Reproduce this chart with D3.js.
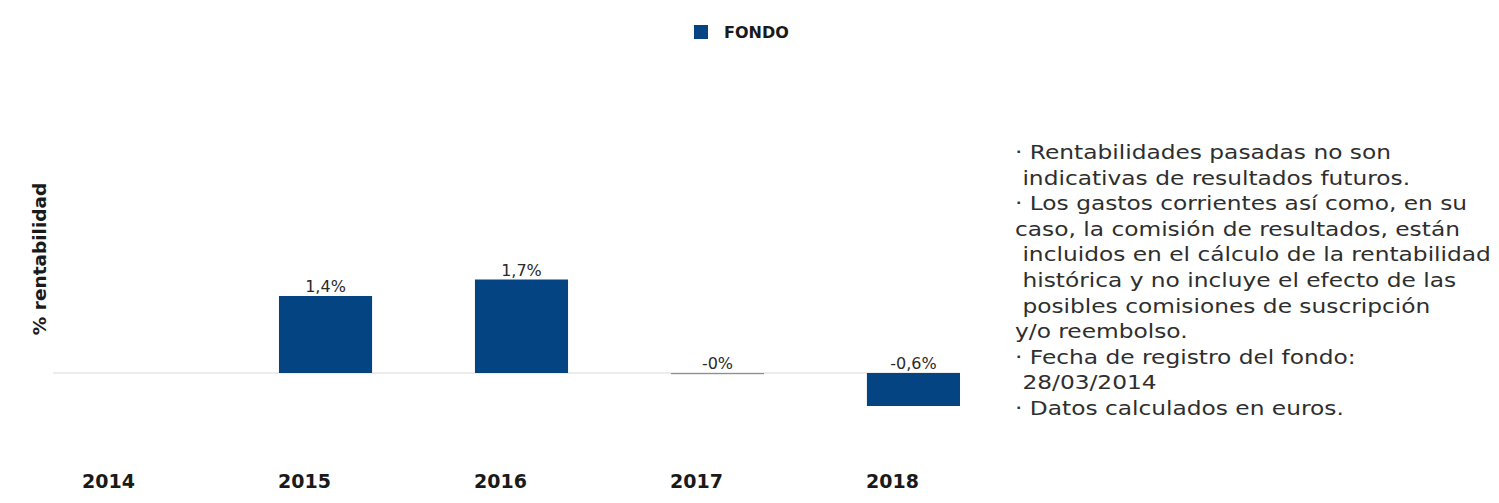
<!DOCTYPE html>
<html>
<head>
<meta charset="utf-8">
<script src="https://cdn.jsdelivr.net/npm/d3@7"></script>
<style>
  body { margin: 0; background: #fff; }
  svg { display: block; font-family: "DejaVu Sans", sans-serif; }
</style>
</head>
<body>
<div id="chart"></div>
<script>
const years = ["2014", "2015", "2016", "2017", "2018"];
const fondo = [null, 1.4, 1.7, -0.02, -0.6];
const valueLabels = ["", "1,4%", "1,7%", "-0%", "-0,6%"];
const seriesName = "FONDO";
const notes = [
  "· Rentabilidades pasadas no son",
  " indicativas de resultados futuros.",
  "· Los gastos corrientes así como, en su",
  "caso, la comisión de resultados, están",
  " incluidos en el cálculo de la rentabilidad",
  " histórica y no incluye el efecto de las",
  " posibles comisiones de suscripción",
  "y/o reembolso.",
  "· Fecha de registro del fondo:",
  " 28/03/2014",
  "· Datos calculados en euros."
];

const w = 1499;
const h = 503;
const barColor = "#044482";

const svg = d3.select("#chart")
  .append("svg")
  .attr("width", w)
  .attr("height", h);

const x = d3.scaleBand()
  .domain(years)
  .range([34, 1009])
  .paddingInner(0.525)
  .paddingOuter(0.25);

const y = d3.scaleLinear()
  .domain([-1, 2])
  .range([428, 263]);

// baseline at zero
svg.append("line")
  .attr("x1", x(years[0]) - 30)
  .attr("x2", x(years[years.length - 1]) + x.bandwidth())
  .attr("y1", y(0))
  .attr("y2", y(0))
  .attr("stroke", "#e6e6e6")
  .attr("stroke-width", 1.5);

const data = years.map((yr, i) => ({ year: yr, value: fondo[i], label: valueLabels[i] }));

//-------------bars------------------------
svg.selectAll("rect.bar")
  .data(data.filter(d => d.value !== null))
  .enter()
  .append("rect")
  .attr("class", "bar")
  .attr("x", d => x(d.year))
  .attr("width", x.bandwidth())
  .attr("y", d => y(Math.max(0, d.value)))
  .attr("height", d => Math.max(1.2, Math.abs(y(d.value) - y(0))))
  .attr("fill", d => Math.abs(d.value) < 0.05 ? "#8a8f96" : barColor);

svg.selectAll("text.val")
  .data(data.filter(d => d.value !== null))
  .enter()
  .append("text")
  .attr("class", "val")
  .attr("x", d => x(d.year) + x.bandwidth() / 2)
  .attr("y", d => y(Math.max(0, d.value)) - 4)
  .attr("text-anchor", "middle")
  .attr("font-size", 16)
  .attr("fill", "#2a2a2a")
  .text(d => d.label);

//-------------x axis labels------------------------
const xAxis = d3.axisBottom(x).tickSize(0).tickPadding(0);
const gx = svg.append("g")
  .attr("transform", "translate(-21,488)")
  .call(xAxis);
gx.select(".domain").remove();
gx.selectAll("text")
  .attr("dy", 0)
  .attr("font-family", "DejaVu Sans, sans-serif")
  .attr("font-size", 19)
  .attr("font-weight", "bold")
  .attr("fill", "#1a1a1a");

// y axis title
svg.append("text")
  .attr("transform", "translate(46,259) rotate(-90)")
  .attr("text-anchor", "middle")
  .attr("font-size", 18.5)
  .attr("font-weight", "bold")
  .attr("fill", "#1a1a1a")
  .text("% rentabilidad");

//---------------legend------------------------
const legend = svg.append("g").attr("id", "legend");
legend.append("rect")
  .attr("x", 694)
  .attr("y", 25)
  .attr("width", 14)
  .attr("height", 14)
  .attr("fill", barColor);
legend.append("text")
  .attr("x", 724)
  .attr("y", 38)
  .attr("font-size", 16)
  .attr("font-weight", "bold")
  .attr("fill", "#1a1a1a")
  .text(seriesName);

//---------------notes------------------------
// the notes in the reference are stretched horizontally
svg.append("g")
  .attr("transform", "translate(1015,0) scale(1.165,1)")
  .selectAll("text")
  .data(notes)
  .enter()
  .append("text")
  .attr("x", 0)
  .attr("y", (d, i) => 159 + i * 25.6)
  .attr("font-size", 20)
  .attr("fill", "#2e2e2e")
  .attr("xml:space", "preserve")
  .style("white-space", "pre")
  .text(d => d);
</script>
</body>
</html>
